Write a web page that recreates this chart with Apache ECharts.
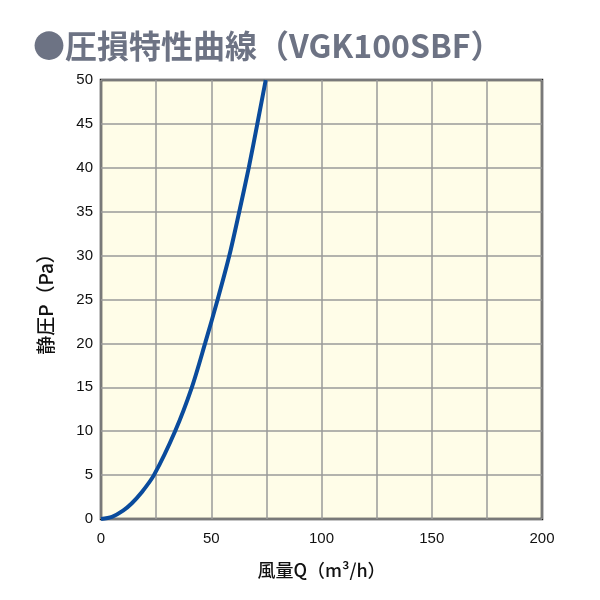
<!DOCTYPE html>
<html><head><meta charset="utf-8">
<script src="https://cdn.jsdelivr.net/npm/echarts@6/dist/echarts.min.js"></script>
<style>html,body{margin:0;padding:0;background:#fff}#c{width:600px;height:600px}</style>
</head><body><div id="c"></div>
<script>
const flowQ = [0, 5, 10, 14, 18, 24.0, 33.6, 41.2, 47.2, 52.9, 58.2, 62.7, 67.0, 70.9, 74.7];
const pressureP = [0, 0.25, 0.95, 1.8, 2.9, 5, 10, 15, 20, 25, 30, 35, 40, 45, 50];
const xTicks = [0, 50, 100, 150, 200];
const titleText = '●圧損特性曲線（VGK100SBF）';
const xName = '風量Q（m³/h）';
const yName = '静圧P（Pa）';

const chart = echarts.init(document.getElementById('c'));
const font = '"Liberation Sans Narrow", "Liberation Sans", Arial, sans-serif';
const cjk = '"Noto Sans CJK JP", sans-serif';
chart.setOption({
  backgroundColor: '#fff',
  title: {
    text: titleText, left: 28, top: 25,
    textStyle: { color: '#6d7384', fontSize: 32, fontWeight: 'bold', fontFamily: cjk }
  },
  grid: { left: 101, right: 58, top: 80, bottom: 81, show: true, backgroundColor: '#fffde8', borderColor: '#1a1a1a', borderWidth: 2.5 },
  xAxis: {
    type: 'value', min: 0, max: 200, interval: 25,
    axisLine: { show: false }, axisTick: { show: false },
    splitLine: { show: true, lineStyle: { color: '#9a9a9a', width: 1.5 } },
    axisLabel: { color: '#111', fontSize: 15, fontFamily: font, margin: 12,
      formatter: v => xTicks.includes(v) ? String(v) : '' },
    name: xName, nameLocation: 'middle', nameGap: 42,
    nameTextStyle: { color: '#111', fontSize: 18, fontWeight: 500, fontFamily: cjk }
  },
  yAxis: {
    type: 'value', min: 0, max: 50, interval: 5,
    axisLine: { show: false }, axisTick: { show: false },
    splitLine: { show: true, lineStyle: { color: '#9a9a9a', width: 1.5 } },
    axisLabel: { color: '#111', fontSize: 15, fontFamily: font, margin: 8 },
    name: yName, nameLocation: 'middle', nameGap: 46, nameRotate: 90,
    nameTextStyle: { color: '#111', fontSize: 19, fontWeight: 500, fontFamily: cjk }
  },
  series: [{
    type: 'line', smooth: 0.3, showSymbol: false, silent: true,
    data: flowQ.map((q, i) => [q, pressureP[i]]),
    lineStyle: { color: '#0a4b9c', width: 4 }
  }]
});
</script></body></html>
